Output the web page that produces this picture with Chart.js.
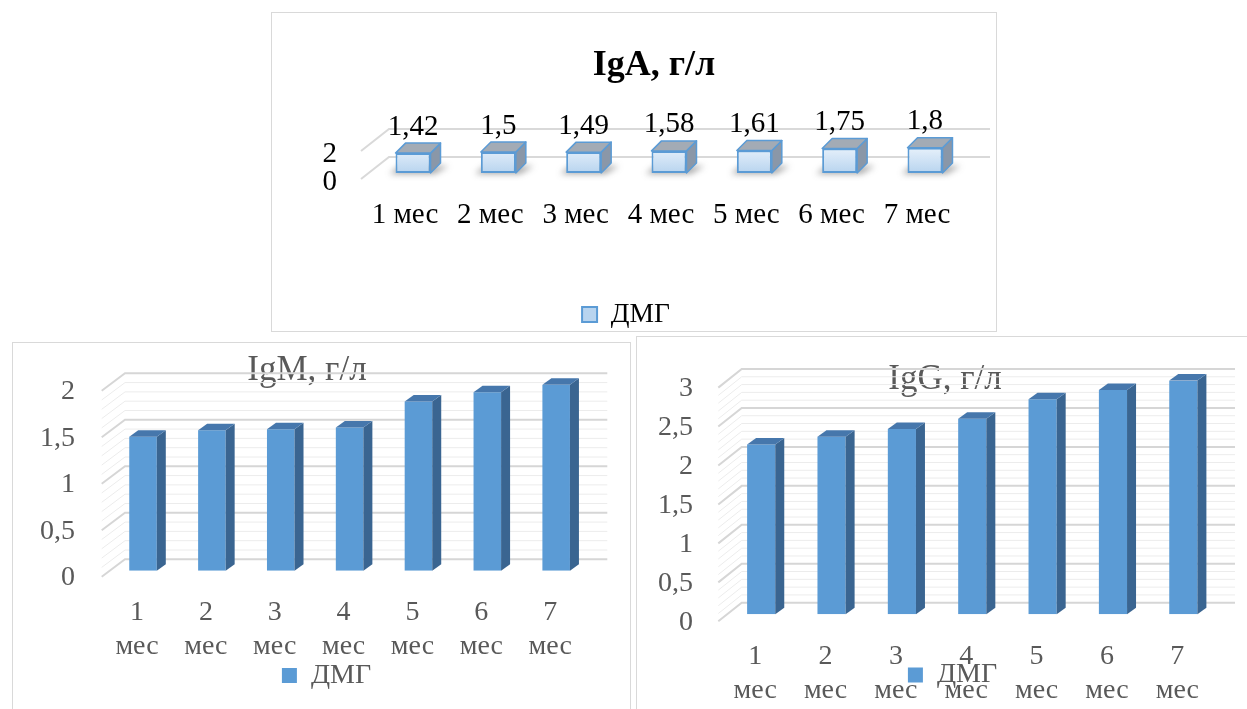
<!DOCTYPE html>
<html>
<head>
<meta charset="utf-8">
<script src="https://cdn.jsdelivr.net/npm/chart.js@4.4.1/dist/chart.umd.min.js"></script>
<style>
  html, body { margin: 0; padding: 0; background: #ffffff; overflow: hidden; width: 1247px; height: 709px; }
  .box { position: absolute; border: 1px solid #d9d9d9; box-sizing: border-box; background: #ffffff; }
  .box canvas { position: absolute; left: 0; top: 0; }
</style>
</head>
<body>
<div class="box" style="left:12px;top:342px;width:619px;height:378px;"><canvas id="cIgM" width="617" height="376"></canvas></div>
<div class="box" style="left:636px;top:336px;width:624px;height:384px;"><canvas id="cIgG" width="622" height="382"></canvas></div>
<div class="box" style="left:271px;top:12px;width:726px;height:320px;"><canvas id="cIgA" width="724" height="318"></canvas></div>
<script>
// ---- data ----
const categories = ['1 мес', '2 мес', '3 мес', '4 мес', '5 мес', '6 мес', '7 мес'];
const seriesName = 'ДМГ';
const igaValues = [1.42, 1.5, 1.49, 1.58, 1.61, 1.75, 1.8];
const igmValues = [1.44, 1.51, 1.52, 1.54, 1.82, 1.92, 2.0];
const iggValues = [2.18, 2.28, 2.38, 2.51, 2.76, 2.88, 3.0];
const igaTicks = ['0', '2'];
const igmTicks = ['0', '0,5', '1', '1,5', '2'];
const iggTicks = ['0', '0,5', '1', '1,5', '2', '2,5', '3'];
const igaTitle = 'IgA, г/л';
const igmTitle = 'IgM, г/л';
const iggTitle = 'IgG, г/л';

const SERIF = '"Liberation Serif", "Times New Roman", "DejaVu Serif", serif';
const fmt = v => String(v).replace('.', ',');

// light gradient fill for the IgA cubes' front faces
function lightCubeFill(context) {
  const chart = context.chart, a = chart.chartArea;
  if (!a) return '#c7def4';
  const g = chart.ctx.createLinearGradient(0, a.top + 4, 0, a.bottom);
  g.addColorStop(0, '#e4effa');
  g.addColorStop(1, '#b8d4ef');
  return g;
}

// Reposition title and legend blocks after layout (Excel-like placement)
const placeTL = {
  id: 'placeTL',
  afterLayout(chart, args, o) {
    const t = chart.titleBlock;
    if (t && o.title) {
      const w = 500, lh = t.height;
      t.left = o.title.x - w / 2; t.right = o.title.x + w / 2; t.width = w;
      t.top = o.title.y - lh / 2; t.bottom = t.top + lh;
    }
    const l = chart.legend;
    if (l && o.legend) {
      const w = 400, fs = o.legend.fs, pad = 10;
      l.left = o.legend.x - w / 2; l.right = o.legend.x + w / 2; l.width = w;
      l.top = o.legend.y - pad - fs / 2;
      l.height = fs + 2 * pad + 10;
      l.bottom = l.top + l.height;
    }
  }
};

// 3D look: back wall gridlines, side & top faces of bars, data labels
const bars3d = {
  id: 'bars3d',
  beforeDatasetsDraw(chart, args, o) {
    const ctx = chart.ctx, ys = chart.scales.y, a = chart.chartArea, w = o.wall;
    const majors = ys.ticks.map(t => t.value);
    const lines = [];
    for (let i = 0; i < majors.length; i++) {
      lines.push({ v: majors[i], major: true });
      if (w.minorPerMajor && i < majors.length - 1) {
        const step = (majors[i + 1] - majors[i]) / w.minorPerMajor;
        for (let k = 1; k < w.minorPerMajor; k++) lines.push({ v: majors[i] + k * step, major: false });
      }
    }
    ctx.save();
    lines.sort((p, q) => (p.major === q.major ? 0 : p.major ? 1 : -1));
    for (const ln of lines) {
      const yb = ys.getPixelForValue(ln.v);
      ctx.strokeStyle = ln.major ? w.major : w.minor;
      ctx.lineWidth = ln.major ? w.majorW : 1;
      ctx.beginPath();
      ctx.moveTo(a.left + w.diagL, yb + w.diagDy);
      ctx.lineTo(a.left + w.wallL, yb + w.backDy);
      ctx.lineTo(a.right + w.wallR, yb + w.backDy);
      ctx.stroke();
    }
    // soft floor shadows (IgA style)
    if (o.shadow) {
      const meta = chart.getDatasetMeta(0);
      ctx.filter = 'blur(3px)';
      ctx.fillStyle = 'rgba(60,60,60,0.45)';
      meta.data.forEach(el => {
        const p = el.getProps(['x', 'y', 'base', 'width'], true);
        const l = p.x - p.width / 2, r = p.x + p.width / 2;
        ctx.beginPath();
        ctx.moveTo(l - 6, p.base + 1);
        ctx.lineTo(r + 4, p.base + 1);
        ctx.lineTo(r + o.dx + 8, p.base + o.dy + 3);
        ctx.lineTo(l + o.dx - 6, p.base + o.dy + 3);
        ctx.closePath();
        ctx.fill();
      });
      ctx.filter = 'none';
    }
    ctx.restore();
  },
  afterDatasetsDraw(chart, args, o) {
    const ctx = chart.ctx, meta = chart.getDatasetMeta(0);
    const ds = chart.data.datasets[0];
    ctx.save();
    meta.data.forEach((el, i) => {
      const p = el.getProps(['x', 'y', 'base', 'width'], true);
      const l = p.x - p.width / 2, r = p.x + p.width / 2;
      const top = Math.min(p.y, p.base), bot = Math.max(p.y, p.base);
      ctx.lineJoin = 'round';
      // side face
      ctx.beginPath();
      ctx.moveTo(r, top); ctx.lineTo(r + o.dx, top + o.dy);
      ctx.lineTo(r + o.dx, bot + o.dy); ctx.lineTo(r, bot); ctx.closePath();
      ctx.fillStyle = o.side; ctx.fill();
      if (o.edge) { ctx.strokeStyle = o.edge; ctx.lineWidth = o.edgeW; ctx.stroke(); }
      // top face
      ctx.beginPath();
      ctx.moveTo(l, top); ctx.lineTo(l + o.dx, top + o.dy);
      ctx.lineTo(r + o.dx, top + o.dy); ctx.lineTo(r, top); ctx.closePath();
      ctx.fillStyle = o.top; ctx.fill();
      if (o.edge) { ctx.strokeStyle = o.edge; ctx.lineWidth = o.edgeW; ctx.stroke(); }
      if (o.labels) {
        ctx.fillStyle = o.labels.color;
        ctx.font = o.labels.size + 'px ' + SERIF;
        ctx.textAlign = 'center';
        ctx.textBaseline = 'middle';
        ctx.fillText(fmt(ds.data[i]), p.x + o.labels.dx, top + o.labels.dy);
      }
    });
    ctx.restore();
  }
};

function zeroPad(s) { s.paddingTop = 0; s.paddingBottom = 0; s.paddingLeft = 0; s.paddingRight = 0; }

function make3DBarChart(id, o) {
  return new Chart(document.getElementById(id), {
    type: 'bar',
    data: {
      labels: o.labels,
      datasets: [{
        label: seriesName,
        data: o.values,
        backgroundColor: o.front,
        borderColor: o.frontBorder || '#5b9bd5',
        borderWidth: o.borderWidth || 0,
        borderSkipped: false,
        barPercentage: o.barPct,
        categoryPercentage: 1
      }]
    },
    options: {
      responsive: false,
      animation: false,
      devicePixelRatio: 1,
      layout: { padding: o.pad },
      events: [],
      plugins: {
        title: {
          display: true, text: o.title, color: o.textColor, padding: 0,
          font: { family: SERIF, size: o.titleSize, weight: o.titleWeight, lineHeight: 1.1 }
        },
        legend: {
          display: true, position: 'bottom', maxHeight: 1,
          labels: { color: o.textColor, font: { family: SERIF, size: o.legendSize }, boxWidth: 15, boxHeight: 15, padding: 10 }
        },
        tooltip: { enabled: false },
        placeTL: { title: o.titlePos, legend: { x: o.legendPos.x, y: o.legendPos.y, fs: o.legendSize } },
        bars3d: o.fx
      },
      scales: {
        x: {
          grid: { display: false, drawTicks: false }, border: { display: false },
          ticks: { color: o.textColor, font: { family: SERIF, size: o.tickSize, lineHeight: 1.2 }, padding: o.xPad, labelOffset: o.xLabelOffset, maxRotation: 0, minRotation: 0, autoSkip: false },
          afterFit: s => { s.height = o.xh; zeroPad(s); }
        },
        y: {
          min: 0, max: o.max,
          grid: { display: false, drawTicks: false }, border: { display: false },
          ticks: { stepSize: o.step, autoSkip: false, color: o.textColor, font: { family: SERIF, size: o.tickSize }, padding: o.yPad, labelOffset: o.yLabelOffset,
                   callback: (v, i) => o.tickLabels[i] },
          afterFit: s => { s.width = o.yw; zeroPad(s); }
        }
      }
    },
    plugins: [placeTL, bars3d]
  });
}

const twoLine = categories.map(c => c.split(' '));

// IgA (top, bold title, data labels, light cubes)
make3DBarChart('cIgA', {
  labels: categories, values: igaValues, tickLabels: igaTicks, title: igaTitle,
  max: 2, step: 2,
  textColor: '#000000', titleSize: 36, titleWeight: 'bold', tickSize: 29, legendSize: 27.5,
  front: lightCubeFill, frontBorder: '#5b9bd5', borderWidth: 2, barPct: 0.41,
  pad: { left: 0, right: 28.35, top: 92.4, bottom: 47 },
  yw: 98.35, yPad: 33.35, yLabelOffset: 9,
  xh: 110, xPad: 25.2, xLabelOffset: -8,
  titlePos: { x: 382, y: 53 }, legendPos: { x: 354, y: 301.5 },
  fx: {
    dx: 10, dy: -10, side: '#8a97a8', top: '#a3abb5', edge: '#5b9bd5', edgeW: 1.5, shadow: true,
    labels: { color: '#000000', size: 29, dx: 0, dy: -26 },
    wall: { wallL: 18.65, wallR: 22.35, diagL: -9.35, diagDy: 6, backDy: -16, minorPerMajor: 0, major: '#d9d9d9', minor: '#eeeeee', majorW: 2 }
  }
});

// IgM (bottom left)
make3DBarChart('cIgM', {
  labels: twoLine, values: igmValues, tickLabels: igmTicks, title: igmTitle,
  max: 2, step: 0.5,
  textColor: '#595959', titleSize: 35, titleWeight: 'normal', tickSize: 28, legendSize: 28,
  front: '#5b9bd5', barPct: 0.4,
  pad: { left: 0, right: 39.4, top: 3.2, bottom: 7.3 },
  yw: 95.6, yPad: 33.6, yLabelOffset: 7,
  xh: 140, xPad: 25.5, xLabelOffset: -6,
  titlePos: { x: 294, y: 28 }, legendPos: { x: 313.5, y: 332.5 },
  fx: {
    dx: 9, dy: -6.5, side: '#3a6591', top: '#4677ac',
    wall: { wallL: 16.4, wallR: 16.7, diagL: -6.9, diagDy: 6, backDy: -11.4, minorPerMajor: 5, major: '#d6d6d6', minor: '#ececec', majorW: 2 }
  }
});

// IgG (bottom right)
make3DBarChart('cIgG', {
  labels: twoLine, values: iggValues, tickLabels: iggTicks, title: iggTitle,
  max: 3, step: 0.5,
  textColor: '#595959', titleSize: 35, titleWeight: 'normal', tickSize: 28, legendSize: 28,
  front: '#5b9bd5', barPct: 0.4,
  pad: { left: 0, right: 40.5, top: 5.1, bottom: 3.7 },
  yw: 89, yPad: 33, yLabelOffset: 8,
  xh: 100, xPad: 25.9, xLabelOffset: -6,
  titlePos: { x: 308, y: 43 }, legendPos: { x: 315.5, y: 338 },
  fx: {
    dx: 9, dy: -6.5, side: '#3a6591', top: '#4677ac',
    wall: { wallL: 15.7, wallR: 16.5, diagL: -7.7, diagDy: 7, backDy: -11.6, minorPerMajor: 5, major: '#d6d6d6', minor: '#ececec', majorW: 2 }
  }
});
</script>
</body>
</html>
